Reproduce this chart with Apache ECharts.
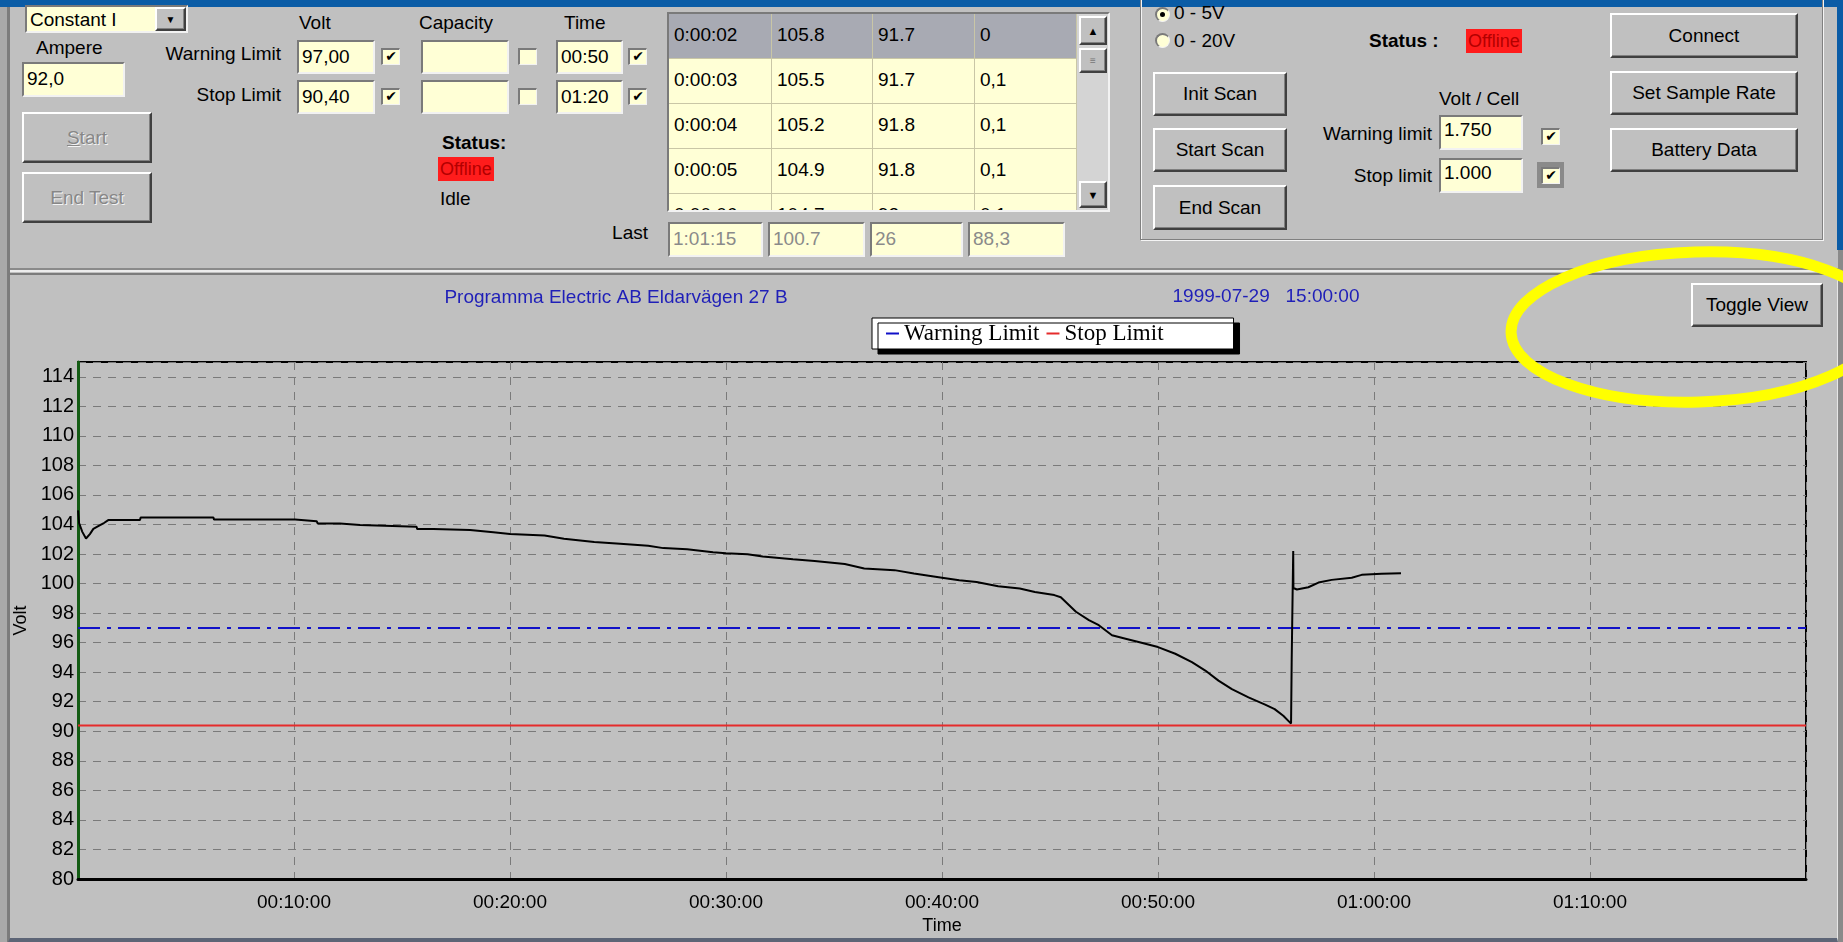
<!DOCTYPE html>
<html><head><meta charset="utf-8">
<script src="https://cdn.jsdelivr.net/npm/echarts@6/dist/echarts.min.js"></script>
<style>
html,body{margin:0;padding:0;width:1843px;height:942px;overflow:hidden;background:#c0c0c0;font-family:"Liberation Sans",Arial,sans-serif;}
.a{position:absolute;box-sizing:border-box;}
.t{position:absolute;font-size:19px;color:#000;white-space:nowrap;line-height:20px;}
.r{text-align:right;}
.b{font-weight:bold;font-size:19px;}
.in{position:absolute;box-sizing:border-box;background:#ffffd6;border-top:2px solid #7a7a7a;border-left:2px solid #7a7a7a;border-bottom:2px solid #f2f2f2;border-right:2px solid #f2f2f2;font-size:19px;padding:5px 3px;line-height:20px;white-space:nowrap;overflow:hidden;}
.btn{position:absolute;box-sizing:border-box;background:#c0c0c0;border-top:2px solid #fff;border-left:2px solid #fff;border-bottom:2px solid #404040;border-right:2px solid #404040;box-shadow:inset -1px -1px #808080;display:flex;align-items:center;justify-content:center;font-size:19px;white-space:nowrap;}
.dis{color:#878787;text-shadow:1px 1px #f4f4f4;}
.cb{position:absolute;box-sizing:border-box;width:19px;height:17px;background:#ffffd6;border-top:2px solid #7a7a7a;border-left:2px solid #7a7a7a;border-bottom:1px solid #f2f2f2;border-right:1px solid #f2f2f2;font-size:14px;font-weight:bold;line-height:13px;text-align:center;font-family:"DejaVu Sans",sans-serif;}
.rad{position:absolute;box-sizing:border-box;width:15px;height:15px;border-radius:50%;background:#ffffd6;border-top:2px solid #7a7a7a;border-left:2px solid #7a7a7a;border-right:1px solid #f2f2f2;border-bottom:1px solid #f2f2f2;}
.off{position:absolute;background:#ff1c1c;color:#b30000;font-size:18px;line-height:24px;padding:0 2px;}
#tbl{position:absolute;left:667px;top:12px;width:443px;height:200px;box-sizing:border-box;border-top:2px solid #7a7a7a;border-left:2px solid #7a7a7a;border-right:2px solid #f2f2f2;border-bottom:2px solid #f2f2f2;overflow:hidden;background:#ffffd6;}
.row{position:absolute;left:0;width:408px;height:45px;border-bottom:1px solid #c9c6a6;box-sizing:border-box;}
.cell{position:absolute;top:0;height:45px;border-right:1px solid #c9c6a6;box-sizing:border-box;font-size:19px;padding:10px 0 0 5px;white-space:nowrap;}
#chart{position:absolute;left:0;top:0;width:1843px;height:942px;z-index:5;}
</style>
</head><body>
<!-- window frame -->
<div class="a" style="left:0;top:0;width:1843px;height:7px;background:#0a5ca6"></div>
<div class="a" style="left:1837px;top:0;width:6px;height:250px;background:#0a5ca6"></div>
<div class="a" style="left:1838px;top:250px;width:5px;height:692px;background:#8a8a8a"></div>
<div class="a" style="left:0;top:7px;width:7px;height:935px;background:#a9a9a9"></div>
<div class="a" style="left:7px;top:7px;width:3px;height:935px;background:#7c7c7c"></div>

<!-- left controls -->
<div class="in" style="left:25px;top:5px;width:163px;height:28px;padding-top:3px;">Constant I</div>
<div class="btn" style="left:155px;top:7px;width:31px;height:24px;font-size:10px;">&#9660;</div>
<div class="t" style="left:36px;top:38px">Ampere</div>
<div class="in" style="left:22px;top:62px;width:103px;height:35px;">92,0</div>
<div class="btn dis" style="left:22px;top:112px;width:130px;height:51px;"><u>S</u>tart</div>
<div class="btn dis" style="left:22px;top:172px;width:130px;height:51px;">End Test</div>

<div class="t" style="left:299px;top:13px">Volt</div>
<div class="t" style="left:419px;top:13px">Capacity</div>
<div class="t" style="left:564px;top:13px">Time</div>
<div class="t r" style="left:121px;width:160px;top:44px">Warning Limit</div>
<div class="t r" style="left:121px;width:160px;top:85px">Stop Limit</div>
<div class="in" style="left:297px;top:40px;width:78px;height:34px;">97,00</div>
<div class="cb" style="left:381px;top:48px">&#10004;</div>
<div class="in" style="left:421px;top:40px;width:88px;height:34px;"></div>
<div class="cb" style="left:518px;top:48px"></div>
<div class="in" style="left:556px;top:40px;width:67px;height:34px;">00:50</div>
<div class="cb" style="left:628px;top:48px">&#10004;</div>
<div class="in" style="left:297px;top:80px;width:78px;height:34px;">90,40</div>
<div class="cb" style="left:381px;top:88px">&#10004;</div>
<div class="in" style="left:421px;top:80px;width:88px;height:34px;"></div>
<div class="cb" style="left:518px;top:88px"></div>
<div class="in" style="left:556px;top:80px;width:67px;height:34px;">01:20</div>
<div class="cb" style="left:628px;top:88px">&#10004;</div>

<div class="t b" style="left:442px;top:133px">Status:</div>
<div class="off" style="left:438px;top:157px;">Offline</div>
<div class="t" style="left:440px;top:189px">Idle</div>
<div class="t r" style="left:588px;width:60px;top:223px">Last</div>

<div id="tbl"></div>
<div id="last"></div>

<!-- right group -->
<div class="a" style="left:1140px;top:-4px;width:683px;height:244px;border:1px solid #808080;box-shadow:1px 1px #f4f4f4, inset 1px 1px #f4f4f4;"></div>
<div class="rad" style="left:1155px;top:7px;"><div class="a" style="left:3px;top:3px;width:5px;height:5px;border-radius:50%;background:#000"></div></div>
<div class="t" style="left:1174px;top:3px">0 - 5V</div>
<div class="rad" style="left:1155px;top:33px;"></div>
<div class="t" style="left:1174px;top:31px">0 - 20V</div>
<div class="t b" style="left:1369px;top:31px">Status :</div>
<div class="off" style="left:1466px;top:29px;">Offline</div>
<div class="btn" style="left:1153px;top:72px;width:134px;height:44px;">Init Scan</div>
<div class="btn" style="left:1153px;top:128px;width:134px;height:44px;">Start Scan</div>
<div class="btn" style="left:1153px;top:185px;width:134px;height:45px;">End Scan</div>
<div class="t" style="left:1439px;top:89px">Volt / Cell</div>
<div class="t r" style="left:1272px;width:160px;top:124px">Warning limit</div>
<div class="t r" style="left:1272px;width:160px;top:166px">Stop limit</div>
<div class="in" style="left:1439px;top:115px;width:84px;height:35px;padding-top:3px">1.750</div>
<div class="in" style="left:1439px;top:158px;width:84px;height:35px;padding-top:3px">1.000</div>
<div class="cb" style="left:1541px;top:128px">&#10004;</div>
<div class="a" style="left:1537px;top:162px;width:27px;height:26px;background:#8a8a8a"></div>
<div class="cb" style="left:1541px;top:167px">&#10004;</div>
<div class="btn" style="left:1610px;top:13px;width:188px;height:45px;">Connect</div>
<div class="btn" style="left:1610px;top:71px;width:188px;height:44px;">Set Sample Rate</div>
<div class="btn" style="left:1610px;top:128px;width:188px;height:44px;">Battery Data</div>

<!-- chart panel -->
<div class="a" style="left:10px;top:268px;width:1828px;height:2px;background:#8a8a8a"></div>
<div class="a" style="left:10px;top:270px;width:1828px;height:2px;background:#ececec"></div>
<div class="a" style="left:8px;top:273px;width:1830px;height:669px;border-top:2px solid #7b7b7b;border-left:2px solid #7b7b7b;border-right:1px solid #e6e6e6;border-bottom:4px solid #5d6576;"></div>
<div class="btn" style="left:1691px;top:283px;width:132px;height:44px;">Toggle View</div>

<div id="chart"></div>
<script>
// ---- chart data ----
const timeMin = 0, timeMax = 80, timeStep = 10;          // minutes
const voltMin = 80, voltMax = 115, voltStep = 2;
const warningLimit = 97.0;
const stopLimit = 90.4;
const limitNames = ['Warning Limit', 'Stop Limit'];
const headerLeft = 'Programma Electric AB Eldarvägen 27 B';
const headerRight = '1999-07-29   15:00:00';

const voltTime = [0, 0.05, 0.2, 0.37, 0.55, 0.71, 1.02, 1.2, 1.4, 2.87, 2.9, 6.27, 6.3, 10.05, 10.1, 11.05, 11.1, 12.13, 12.2, 13.06, 13.1, 15.68, 15.7, 16.45, 16.5, 18.15, 18.2, 19.23, 19.3, 20,
  21.6, 22.5, 23.9, 25.1, 26.4, 27.1, 28.2, 29.4, 30, 31, 31.7, 33.1, 34.1, 35.5, 36.4, 37.8, 38.7, 40, 40.8, 41.6, 42.6, 43.6, 44.3, 45.2, 45.5,
  46.2, 46.8, 47.26, 47.87, 48.5, 49.1, 50, 50.8, 51.57, 52.19, 52.8, 53.42, 54.19, 54.96, 55.4, 55.8, 56.16,
  56.19, 56.22, 56.26, 56.27, 56.43, 56.96, 57.43, 58.04, 58.97, 59.43, 60.35, 61.25];
const voltValue = [104.95, 104.1, 103.5, 103.05, 103.35, 103.7, 103.95, 104.1, 104.3, 104.3, 104.47, 104.47, 104.33, 104.33, 104.22, 104.22, 104.07, 104.07, 103.96, 103.96, 103.84, 103.84, 103.69, 103.69, 103.62, 103.62, 103.5, 103.47, 103.38, 103.36,
  103.25, 103.04, 102.81, 102.7, 102.56, 102.4, 102.33, 102.12, 102.05, 101.99, 101.83, 101.64, 101.53, 101.32, 101.02, 100.91, 100.68, 100.4, 100.22, 100.1, 99.82, 99.66, 99.43, 99.22, 99.07,
  98.09, 97.52, 97.18, 96.5, 96.27, 96.05, 95.7, 95.25, 94.68, 94.11, 93.43, 92.86, 92.3, 91.8, 91.5, 91.05, 90.52,
  94.9, 95.0, 102.2, 99.7, 99.6, 99.75, 100.07, 100.25, 100.4, 100.59, 100.66, 100.7];

// ---- panel table texts ----
const tblTime = ['0:00:02', '0:00:03', '0:00:04', '0:00:05', '0:00:06'];
const tblVolt = ['105.8', '105.5', '105.2', '104.9', '104.7'];
const tblAmp = ['91.7', '91.7', '91.8', '91.8', '92'];
const tblCap = ['0', '0,1', '0,1', '0,1', '0,1'];
const lastVals = ['1:01:15', '100.7', '26', '88,3'];

(function buildTable() {
  const tbl = document.getElementById('tbl');
  const colL = [0, 103, 204, 306], colW = [103, 101, 102, 102];
  let html = '';
  for (let i = 0; i < tblTime.length; i++) {
    const vals = [tblTime[i], tblVolt[i], tblAmp[i], tblCap[i]];
    html += '<div class="row" style="top:' + (i * 45) + 'px;background:' + (i === 0 ? '#a8aab3' : '#ffffd6') + '">';
    for (let c = 0; c < 4; c++) html += '<div class="cell" style="left:' + colL[c] + 'px;width:' + colW[c] + 'px">' + vals[c] + '</div>';
    html += '</div>';
  }
  html += '<div class="a" style="left:408px;top:0;width:31px;height:200px;background:#d4d4d4"></div>';
  html += '<div class="btn" style="left:410px;top:2px;width:28px;height:29px;font-size:11px">&#9650;</div>';
  html += '<div class="btn" style="left:410px;top:34px;width:28px;height:25px;font-size:10px;color:#777">&#8801;</div>';
  html += '<div class="btn" style="left:410px;top:167px;width:28px;height:27px;font-size:11px">&#9660;</div>';
  tbl.innerHTML = html;
  const lastL = [668, 768, 870, 968], lastW = [95, 97, 93, 97];
  let lh = '';
  for (let i = 0; i < lastVals.length; i++) lh += '<div class="in" style="left:' + lastL[i] + 'px;top:222px;width:' + lastW[i] + 'px;height:35px;color:#8a8a8a">' + lastVals[i] + '</div>';
  document.getElementById('last').innerHTML = lh;
})();

function fmtTime(m) {
  const s = Math.round(m * 60);
  const h = Math.floor(s / 3600), mm = Math.floor((s % 3600) / 60), ss = s % 60;
  const p = n => (n < 10 ? '0' : '') + n;
  return p(h) + ':' + p(mm) + ':' + p(ss);
}

const sans = '"Liberation Sans", Arial, sans-serif';
const serif = '"Liberation Serif", "Times New Roman", serif';
const voltData = voltTime.map((t, i) => [t, voltValue[i]]);

const chart = echarts.init(document.getElementById('chart'), null, { renderer: 'canvas' });
chart.setOption({
  animation: false,
  backgroundColor: 'transparent',
  grid: { left: 78, top: 362, width: 1728, height: 517, show: true, borderColor: '#000', borderWidth: 2, backgroundColor: 'transparent' },
  xAxis: {
    type: 'value', min: timeMin, max: timeMax, interval: timeStep,
    name: 'Time', nameLocation: 'middle', nameGap: 38,
    nameTextStyle: { color: '#000', fontSize: 18, fontFamily: sans },
    axisLine: { show: true, onZero: false, lineStyle: { color: '#000', width: 3 } },
    axisTick: { show: false },
    axisLabel: { showMinLabel: false, showMaxLabel: false, formatter: fmtTime, margin: 14, color: '#000', fontSize: 19, fontFamily: sans },
    splitLine: { show: true, lineStyle: { color: '#7a7a7a', type: [8, 7], width: 1 } }
  },
  yAxis: {
    type: 'value', min: voltMin, max: voltMax, interval: voltStep,
    name: 'Volt', nameLocation: 'middle', nameGap: 41,
    nameTextStyle: { color: '#000', fontSize: 18, fontFamily: sans },
    axisLine: { show: true, onZero: false, lineStyle: { color: '#145c14', width: 3 } },
    axisTick: { show: false },
    axisLabel: { showMaxLabel: false, margin: 4, color: '#000', fontSize: 20, fontFamily: sans },
    splitLine: { show: true, lineStyle: { color: '#7a7a7a', type: [8, 7], width: 1 } }
  },
  legend: {
    data: limitNames, left: 872, top: 318, orient: 'horizontal',
    icon: 'rect', itemWidth: 13, itemHeight: 2, itemGap: 7,
    padding: [4, 70, 4, 14],
    backgroundColor: '#fff', borderColor: '#000', borderWidth: 1,
    shadowColor: '#000', shadowBlur: 0, shadowOffsetX: 6, shadowOffsetY: 5,
    textStyle: { fontFamily: serif, fontSize: 23, color: '#000' },
    selectedMode: false
  },
  graphic: [
    { type: 'text', x: 616, y: 298, z: 50, style: { text: headerLeft, fill: '#1f1fb8', font: '19px ' + sans, align: 'center', verticalAlign: 'middle', textAlign: 'center', textVerticalAlign: 'middle' } },
    { type: 'text', x: 1266, y: 297, z: 50, style: { text: headerRight, fill: '#1f1fb8', font: '19px ' + sans, align: 'center', verticalAlign: 'middle', textAlign: 'center', textVerticalAlign: 'middle' } },
    { type: 'ellipse', x: 1697, y: 327, rotation: 0.03, z: 100, shape: { cx: 0, cy: 0, rx: 186, ry: 75 }, style: { fill: 'none', stroke: '#ffff00', lineWidth: 11 } }
  ],
  series: [
    { name: 'Volt', type: 'line', data: voltData, showSymbol: false, symbol: 'none', lineStyle: { color: '#000', width: 2 }, itemStyle: { color: '#000' }, z: 4 },
    { name: limitNames[0], type: 'line', data: [[timeMin, warningLimit], [timeMax, warningLimit]], showSymbol: false, symbol: 'none', lineStyle: { color: '#1010c8', width: 2, type: [22, 7, 4, 7] }, itemStyle: { color: '#1010c8' }, z: 3 },
    { name: limitNames[1], type: 'line', data: [[timeMin, stopLimit], [timeMax, stopLimit]], showSymbol: false, symbol: 'none', lineStyle: { color: '#e52b2b', width: 2 }, itemStyle: { color: '#e52b2b' }, z: 3 }
  ]
});
</script>
</body></html>
